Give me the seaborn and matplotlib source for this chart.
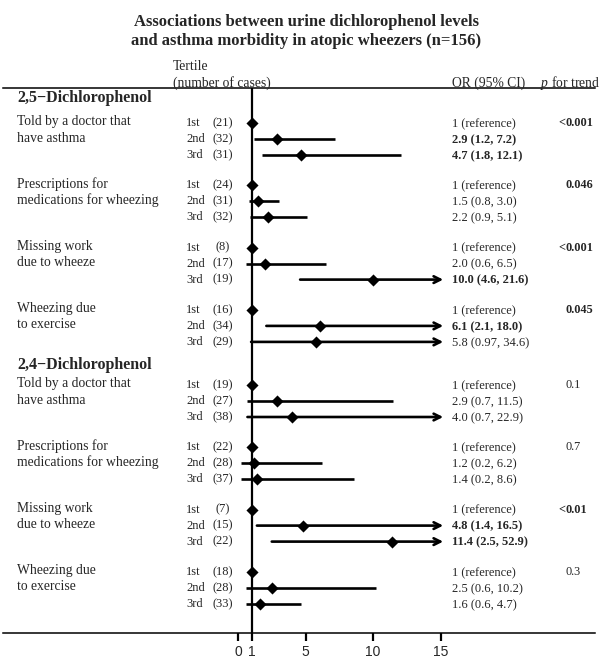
import numpy as np
import pandas as pd
import seaborn as sns
import matplotlib.pyplot as plt

# data
compounds = ["2,5\u2212Dichlorophenol", "2,4\u2212Dichlorophenol"]
outcomes = ["Told by a doctor that\nhave asthma",
            "Prescriptions for\nmedications for wheezing",
            "Missing work\ndue to wheeze",
            "Wheezing due\nto exercise"]
tertiles = ["1st", "2nd", "3rd"]

cases_25 = [21, 32, 31, 24, 31, 32, 8, 17, 19, 16, 34, 29]
or_25 = [1, 2.9, 4.7, 1, 1.5, 2.2, 1, 2.0, 10.0, 1, 6.1, 5.8]
lo_25 = [1, 1.2, 1.8, 1, 0.8, 0.9, 1, 0.6, 4.6, 1, 2.1, 0.97]
hi_25 = [1, 7.2, 12.1, 1, 3.0, 5.1, 1, 6.5, 21.6, 1, 18.0, 34.6]
p_25 = ["<0.001", "0.046", "<0.001", "0.045"]

cases_24 = [19, 27, 38, 22, 28, 37, 7, 15, 22, 18, 28, 33]
or_24 = [1, 2.9, 4.0, 1, 1.2, 1.4, 1, 4.8, 11.4, 1, 2.5, 1.6]
lo_24 = [1, 0.7, 0.7, 1, 0.2, 0.2, 1, 1.4, 2.5, 1, 0.6, 0.6]
hi_24 = [1, 11.5, 22.9, 1, 6.2, 8.6, 1, 16.5, 52.9, 1, 10.2, 4.7]
p_24 = ["0.1", "0.7", "<0.01", "0.3"]

xticks = [0, 1, 5, 10, 15]
xmax_shown = 15.2


def fmt(v):
    s = f"{v:.2f}".rstrip('0')
    if s.endswith('.'):
        s += '0'
    return s


def is_sig(p):
    return p.startswith('<') or float(p) < 0.05


# layout (pixel space of a 612x661 figure)
W, H = 612, 661
px_per_unit = 13.5
x_zero = 238
head_y = [98, 365]
first_row_y = [123, 385]
group_step = 62.3
row_step = 16
top_line, bottom_line = 88, 633
line_left, line_right = 3, 595
or_col, p_col = 452, 565

rows = []
for b, (cases, ors, los, his) in enumerate([(cases_25, or_25, lo_25, hi_25),
                                            (cases_24, or_24, lo_24, hi_24)]):
    for i in range(len(cases)):
        g, t = divmod(i, 3)
        rows.append(dict(block=b, group=g, tertile=tertiles[t], cases=cases[i],
                         OR=ors[i], lo=los[i], hi=his[i],
                         y=first_row_y[b] + g * group_step + t * row_step))
df = pd.DataFrame(rows)

sns.set_theme(style="white")
plt.rcParams['font.family'] = ['Liberation Serif', 'DejaVu Serif']
plt.rcParams['mathtext.fontset'] = 'custom'
plt.rcParams['mathtext.it'] = 'Liberation Serif:italic'
plt.rcParams['mathtext.rm'] = 'Liberation Serif'

fig = plt.figure(figsize=(W / 100, H / 100), dpi=100)
ax = fig.add_axes([0, 1 - bottom_line / H, 1, (bottom_line - top_line) / H])
ax.set_xlim(-x_zero / px_per_unit, (W - x_zero) / px_per_unit)
ax.set_ylim(bottom_line, top_line)

to_x = lambda p: (p - x_zero) / px_per_unit
for s in ['left', 'right']:
    ax.spines[s].set_visible(False)
for s in ['top', 'bottom']:
    ax.spines[s].set_color('black')
    ax.spines[s].set_linewidth(1.1)
    ax.spines[s].set_bounds(to_x(line_left), to_x(line_right))
ax.set_yticks([])
ax.set_xticks(xticks)
ax.set_xticklabels([str(v) for v in xticks], family='Liberation Sans', fontsize=10)
ax.tick_params(axis='x', direction='out', length=6, width=1.6, color='black',
               bottom=True, pad=3)

ax.axvline(1, color='black', lw=1.6, zorder=2)

# confidence intervals
for _, r in df.iterrows():
    if r.OR == 1 and r.lo == 1:
        continue
    if r.hi > xmax_shown:
        ax.annotate('', xy=(xmax_shown, r.y), xytext=(r.lo, r.y),
                    arrowprops=dict(arrowstyle='->', lw=1.9, color='black',
                                    shrinkA=0, shrinkB=0, mutation_scale=12))
    else:
        ax.hlines(r.y, r.lo, r.hi, color='black', lw=1.9)

sns.scatterplot(data=df, x='OR', y='y', marker='D', color='black', s=38,
                edgecolor='black', linewidth=0, ax=ax, zorder=3, legend=False)
ax.set_xlabel('')
ax.set_ylabel('')

tr = ax.get_yaxis_transform()  # x in axes fraction, y in data (pixels)
fx = lambda p: p / W
lab_fs, val_fs, p_fs = 9.8, 9.0, 8.8

# title and header
fig.text(0.5, 1 - 14 / H, "Associations between urine dichlorophenol levels\n"
         "and asthma morbidity in atopic wheezers (n=156)",
         ha='center', va='top', fontsize=12, fontweight='bold', linespacing=1.25)
ax.text(fx(173), 67, "Tertile", transform=tr, va='center', ha='left', fontsize=lab_fs)
ax.text(fx(173), 83, "(number of cases)", transform=tr, va='center', ha='left',
        fontsize=lab_fs)
ax.text(fx(or_col), 83, "OR (95% CI)", transform=tr, va='center', ha='left',
        fontsize=lab_fs)
ax.text(fx(540), 83, r"$p$ for trend", transform=tr, va='center', ha='left',
        fontsize=lab_fs)

for b, pvals in enumerate([p_25, p_24]):
    ax.text(fx(17), head_y[b], compounds[b], transform=tr, va='center', ha='left',
            fontsize=11.5, fontweight='bold')
    sub = df[df.block == b]
    for g, label in enumerate(outcomes):
        grp = sub[sub.group == g]
        for k, line in enumerate(label.split('\n')):
            ax.text(fx(17), grp.y.iloc[k] - 1, line, transform=tr, va='center',
                    ha='left', fontsize=lab_fs)
        p = pvals[g]
        weight = 'bold' if is_sig(p) else 'normal'
        # "<" hangs left of the column
        if p.startswith('<'):
            ax.text(fx(p_col), grp.y.iloc[0], '<', transform=tr, va='center',
                    ha='right', fontsize=p_fs, fontweight=weight)
            p = p[1:]
        ax.text(fx(p_col), grp.y.iloc[0], p, transform=tr, va='center', ha='left',
                fontsize=p_fs, fontweight=weight)
    for _, r in sub.iterrows():
        ax.text(fx(186), r.y, r.tertile, transform=tr, va='center', ha='left',
                fontsize=val_fs)
        ax.text(fx(223), r.y, f"({r.cases})", transform=tr, va='center',
                ha='center', fontsize=val_fs)
        if r.OR == 1 and r.lo == 1:
            txt, bold = "1 (reference)", False
        else:
            txt = f"{fmt(r.OR)} ({fmt(r.lo)}, {fmt(r.hi)})"
            bold = r.lo > 1
        ax.text(fx(or_col), r.y + 1, txt, transform=tr, va='center', ha='left',
                fontsize=val_fs, fontweight='bold' if bold else 'normal')

fig.savefig('out.png', dpi=100)
